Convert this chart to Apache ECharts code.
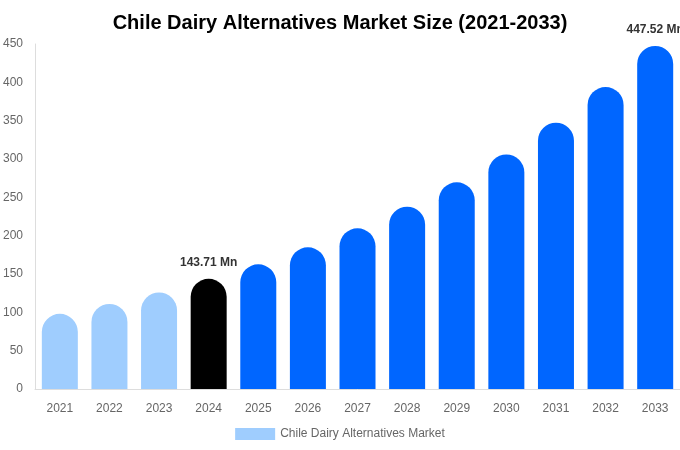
<!DOCTYPE html>
<html><head><meta charset="utf-8">
<script src="https://cdn.jsdelivr.net/npm/echarts@6/dist/echarts.min.js"></script>
<style>html,body{margin:0;padding:0;background:#fff}#c{width:680px;height:450px}</style>
</head><body><div id="c"></div>
<script>
const categories = ['2021','2022','2023','2024','2025','2026','2027','2028','2029','2030','2031','2032','2033'];
const values = [98, 111, 126, 143.71, 162.6, 184.8, 209.6, 237.8, 269.6, 306, 347.4, 393.9, 447.52];
const barColors = ['#9fcdfe','#9fcdfe','#9fcdfe','#000000','#0066ff','#0066ff','#0066ff','#0066ff','#0066ff','#0066ff','#0066ff','#0066ff','#0066ff'];
const labelledIdx = [3, 12];
const seriesName = 'Chile Dairy Alternatives Market';
const titleText = 'Chile Dairy Alternatives Market Size (2021-2033)';

const font = 'Liberation Sans, Arial, sans-serif';
const chart = echarts.init(document.getElementById('c'), null, {renderer:'canvas'});
chart.setOption({
  animation:false,
  textStyle:{fontFamily:font},
  title:{text:titleText,left:'center',top:8,textStyle:{fontSize:20,fontWeight:'bold',color:'#000',fontFamily:font}},
  legend:{bottom:5,left:'center',itemWidth:40,itemHeight:12,icon:'rect',
    textStyle:{color:'#666',fontSize:12,fontFamily:font},
    data:[{name:seriesName,itemStyle:{color:'#9fcdfe'}}]},
  grid:{left:34,right:0,top:44,bottom:61,containLabel:false},
  xAxis:{type:'category',data:categories,
    axisLine:{lineStyle:{color:'#ddd'}},axisTick:{show:false},
    axisLabel:{color:'#666',fontSize:12,margin:14,fontFamily:font}},
  yAxis:{type:'value',min:0,max:450,interval:50,
    axisLine:{show:true,lineStyle:{color:'#ddd'}},axisTick:{show:false},splitLine:{show:false},
    axisLabel:{color:'#666',fontSize:12,margin:12,fontFamily:font}},
  series:[{type:'bar',name:seriesName,barWidth:36,
    data:values.map((v,i)=>({value:v,itemStyle:{color:barColors[i],borderRadius:[18,18,0,0]},
      label:{show:labelledIdx.includes(i),position:'top',distance:10,formatter:p=>p.value.toFixed(2)+' Mn',
        color:'#333',fontWeight:'bold',fontSize:12,fontFamily:font}}))}]
});
</script></body></html>
